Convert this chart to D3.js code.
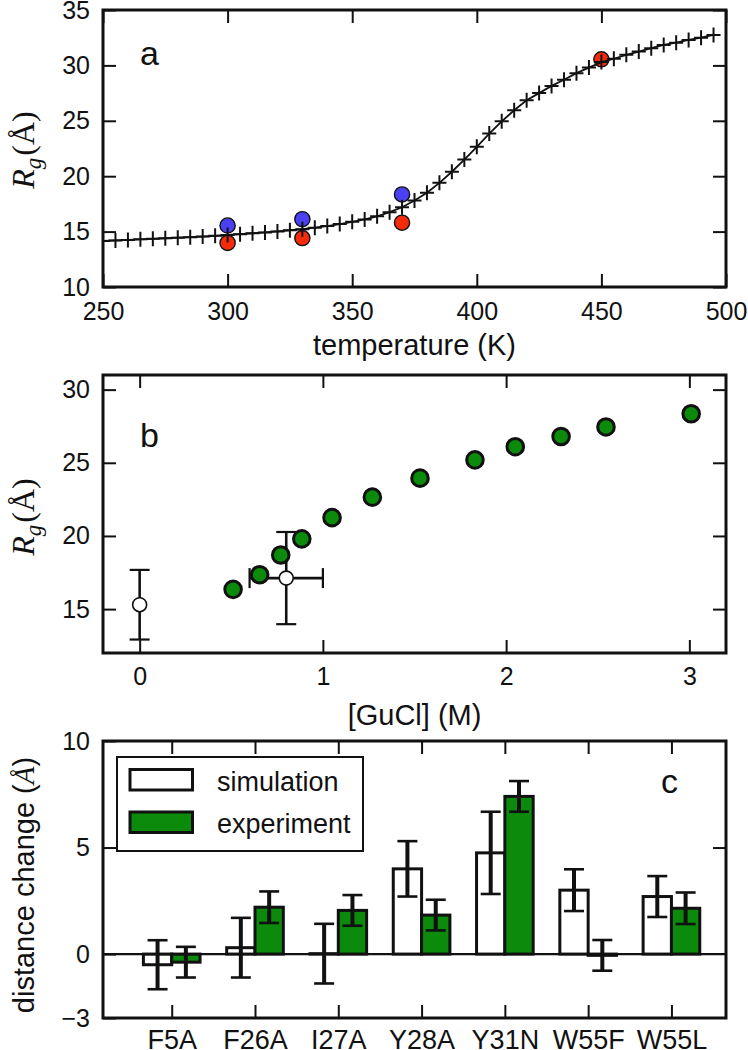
<!DOCTYPE html>
<html><head><meta charset="utf-8">
<script src="https://cdn.jsdelivr.net/npm/d3@7"></script>
<style>
body{margin:0;background:#fff}
svg text{fill:#111}
</style>
</head><body><script>
// ---------- Panel a data ----------
const tempK = [250,255,260,265,270,275,280,285,290,295,300,305,310,315,320,325,330,335,340,345,350,355,360,365,370,375,380,385,390,395,400,405,410,415,420,425,430,435,440,445,450,455,460,465,470,475,480,485,490,495];
const rgTemp = [14.15,14.2,14.25,14.3,14.35,14.4,14.45,14.5,14.55,14.62,14.7,14.77,14.85,14.93,15.02,15.12,15.22,15.35,15.5,15.68,15.88,16.1,16.38,16.75,17.2,17.8,18.5,19.4,20.4,21.5,22.65,23.85,24.95,25.95,26.85,27.5,28.15,28.7,29.3,29.8,30.3,30.6,30.95,31.25,31.55,31.85,32.05,32.3,32.5,32.75];
const blueT = [300,330,370];
const blueRg = [15.55,16.12,18.35];
const redT = [300,330,370,450];
const redRg = [13.98,14.42,15.8,30.55];
const xTicksA = [250,300,350,400,450,500];
const yTicksA = [10,15,20,25,30,35];

// ---------- Panel b data ----------
const gucl = [0.51,0.655,0.77,0.885,1.05,1.27,1.53,1.83,2.05,2.3,2.545,3.01];
const rgGucl = [16.35,17.35,18.7,19.8,21.25,22.65,23.95,25.2,26.1,26.8,27.45,28.35];
const expGucl = [0,0.8];
const expGuclErr = [0,0.2];
const expRg = [15.3,17.12];
const expRgErr = [2.38,3.15];
const xTicksB = [0,1,2,3];
const yTicksB = [15,20,25,30];

// ---------- Panel c data ----------
const mutants = ["F5A","F26A","I27A","Y28A","Y31N","W55F","W55L"];
const simVal = [-0.5,0.3,0.02,4.0,4.75,3.0,2.7];
const simErr = [1.15,1.4,1.4,1.3,1.93,0.98,0.96];
const expVal = [-0.38,2.2,2.05,1.83,7.4,-0.06,2.15];
const expErr = [0.72,0.74,0.72,0.72,0.72,0.72,0.74];
const yTicksC = [-3,0,5,10];

const BLUE = "#4b40f2", RED = "#f42c0c", GREEN = "#0b8a0b";
const SANS = "'Liberation Sans', Arial, Helvetica, sans-serif";
const SERIF = "'Liberation Serif', 'Times New Roman', serif";
const L = 103, R = 726, TICK = 13;

const svg = d3.select("body").append("svg").attr("width",748).attr("height",1050)
  .style("font-family", SANS);

function frameAxes(g, x, y, top, bottom, xt, yt, xfmt, xpad, yRightTicks, xfs){
  const bx = g.append("g").attr("transform",`translate(0,${bottom})`)
    .call(d3.axisBottom(x).tickValues(xt).tickSizeInner(-TICK).tickSizeOuter(0).tickPadding(xpad).tickFormat(xfmt));
  const tx = g.append("g").attr("transform",`translate(0,${top})`)
    .call(d3.axisTop(x).tickValues(xt).tickSizeInner(-TICK).tickSizeOuter(0).tickFormat(""));
  const ly = g.append("g").attr("transform",`translate(${L},0)`)
    .call(d3.axisLeft(y).tickValues(yt).tickSizeInner(-TICK).tickSizeOuter(0).tickPadding(13));
  const ry = g.append("g").attr("transform",`translate(${R},0)`)
    .call(d3.axisRight(y).tickValues(yRightTicks||yt).tickSizeInner(-TICK).tickSizeOuter(0).tickFormat(""));
  [bx,tx,ly,ry].forEach(a=>{
    a.attr("font-family", SANS);
    a.select(".domain").remove();
    a.selectAll(".tick line").attr("stroke","#111").attr("stroke-width",2);
    a.selectAll(".tick text").attr("font-size",25).attr("fill","#111");
  });
  bx.selectAll(".tick text").attr("font-size", xfs || 25);
  g.append("rect").attr("x",L).attr("y",top).attr("width",R-L).attr("height",bottom-top)
    .attr("fill","none").attr("stroke","#111").attr("stroke-width",3);
}

function rgLabel(g, cx, cy){
  const t = g.append("text").attr("transform",`translate(${cx},${cy}) rotate(-90)`)
    .attr("text-anchor","middle").attr("font-family",SERIF).attr("font-size",32);
  t.append("tspan").attr("font-style","italic").text("R");
  t.append("tspan").attr("font-style","italic").attr("font-size",23).attr("dy",7).text("g");
  t.append("tspan").attr("font-style","normal").attr("dy",-7).attr("dx",2).text("(Å)");
}

// ================= Panel a =================
{
  const top = 10, bottom = 287;
  const x = d3.scaleLinear().domain([250,500]).range([L,R]);
  const y = d3.scaleLinear().domain([10,35]).range([bottom,top]);
  const g = svg.append("g");
  g.append("clipPath").attr("id","clipA").append("rect").attr("x",L).attr("y",top).attr("width",R-L).attr("height",bottom-top);
  const pts = d3.zip(tempK, rgTemp);
  g.selectAll("circle.blue").data(d3.zip(blueT,blueRg)).join("circle")
    .attr("cx",d=>x(d[0])).attr("cy",d=>y(d[1])).attr("r",7.6)
    .attr("fill",BLUE).attr("stroke","#111").attr("stroke-width",1.4);
  g.selectAll("circle.red").data(d3.zip(redT,redRg)).join("circle")
    .attr("cx",d=>x(d[0])).attr("cy",d=>y(d[1])).attr("r",7.6)
    .attr("fill",RED).attr("stroke","#111").attr("stroke-width",1.4);
  const cg = g.append("g").attr("clip-path","url(#clipA)");
  cg.append("path").datum(pts).attr("fill","none").attr("stroke","#111").attr("stroke-width",1.8)
    .attr("d", d3.line().x(d=>x(d[0])).y(d=>y(d[1])));
  cg.selectAll("path.plus").data(pts).join("path")
    .attr("d",d=>`M${x(d[0])-7},${y(d[1])}H${x(d[0])+7}M${x(d[0])},${y(d[1])-7.5}V${y(d[1])+7.5}`)
    .attr("stroke","#111").attr("stroke-width",2).attr("fill","none");
  frameAxes(g, x, y, top, bottom, xTicksA, yTicksA, d3.format("d"), 15);
  g.append("text").attr("x",(L+R)/2).attr("y",355).attr("text-anchor","middle").attr("font-size",29).text("temperature (K)");
  rgLabel(g, 34, 150);
  g.append("text").attr("x",140).attr("y",65).attr("font-size",34).text("a");
}

// ================= Panel b =================
{
  const top = 375, bottom = 653;
  const x = d3.scaleLinear().domain([-0.2,3.2]).range([L,R]);
  const y = d3.scaleLinear().domain([12,31]).range([bottom,top]);
  const g = svg.append("g");
  const ex = d3.range(expGucl.length);
  ex.forEach(i=>{
    const cx = x(expGucl[i]), cy = y(expRg[i]);
    const y0 = y(expRg[i]-expRgErr[i]), y1 = y(expRg[i]+expRgErr[i]);
    g.append("line").attr("x1",cx).attr("x2",cx).attr("y1",y0).attr("y2",y1).attr("stroke","#111").attr("stroke-width",2.6);
    g.append("line").attr("x1",cx-10).attr("x2",cx+10).attr("y1",y0).attr("y2",y0).attr("stroke","#111").attr("stroke-width",2.2);
    g.append("line").attr("x1",cx-10).attr("x2",cx+10).attr("y1",y1).attr("y2",y1).attr("stroke","#111").attr("stroke-width",2.2);
    if (expGuclErr[i] > 0){
      const x0 = x(expGucl[i]-expGuclErr[i]), x1 = x(expGucl[i]+expGuclErr[i]);
      g.append("line").attr("x1",x0).attr("x2",x1).attr("y1",cy).attr("y2",cy).attr("stroke","#111").attr("stroke-width",2.6);
      g.append("line").attr("x1",x0).attr("x2",x0).attr("y1",cy-10).attr("y2",cy+10).attr("stroke","#111").attr("stroke-width",2.2);
      g.append("line").attr("x1",x1).attr("x2",x1).attr("y1",cy-10).attr("y2",cy+10).attr("stroke","#111").attr("stroke-width",2.2);
    }
  });
  g.selectAll("circle.open").data(ex).join("circle")
    .attr("cx",i=>x(expGucl[i])).attr("cy",i=>y(expRg[i])).attr("r",7)
    .attr("fill","#fff").attr("stroke","#111").attr("stroke-width",1.6);
  g.selectAll("circle.green").data(d3.zip(gucl,rgGucl)).join("circle")
    .attr("cx",d=>x(d[0])).attr("cy",d=>y(d[1])).attr("r",8.3)
    .attr("fill",GREEN).attr("stroke","#111").attr("stroke-width",3);
  frameAxes(g, x, y, top, bottom, xTicksB, yTicksB, d3.format("d"), 14);
  g.append("text").attr("x",(L+R)/2).attr("y",725).attr("text-anchor","middle").attr("font-size",29).text("[GuCl] (M)");
  rgLabel(g, 34, 517);
  g.append("text").attr("x",140).attr("y",447).attr("font-size",34).text("b");
}

// ================= Panel c =================
{
  const top = 741, bottom = 1018;
  const x = d3.scaleLinear().domain([-0.825,6.655]).range([L,R]);
  const y = d3.scaleLinear().domain([-3,10]).range([bottom,top]);
  const g = svg.append("g");
  const bw = 0.34;
  const idx = d3.range(mutants.length);
  g.selectAll("rect.sim").data(idx).join("rect")
    .attr("x",i=>x(i-bw)).attr("width",i=>x(i)-x(i-bw))
    .attr("y",i=>Math.min(y(simVal[i]),y(0))).attr("height",i=>Math.abs(y(simVal[i])-y(0)))
    .attr("fill","#fff").attr("stroke","#111").attr("stroke-width",3);
  g.selectAll("rect.exp").data(idx).join("rect")
    .attr("x",i=>x(i)).attr("width",i=>x(i+bw)-x(i))
    .attr("y",i=>Math.min(y(expVal[i]),y(0))).attr("height",i=>Math.abs(y(expVal[i])-y(0)))
    .attr("fill",GREEN).attr("stroke","#111").attr("stroke-width",3);
  g.append("line").attr("x1",L).attr("x2",R).attr("y1",y(0)).attr("y2",y(0)).attr("stroke","#111").attr("stroke-width",2.2);
  const eb = (cx, v, e) => {
    const y0 = y(v-e), y1 = y(v+e);
    g.append("line").attr("x1",cx).attr("x2",cx).attr("y1",y0).attr("y2",y1).attr("stroke","#111").attr("stroke-width",4);
    g.append("line").attr("x1",cx-10).attr("x2",cx+10).attr("y1",y0).attr("y2",y0).attr("stroke","#111").attr("stroke-width",2.6);
    g.append("line").attr("x1",cx-10).attr("x2",cx+10).attr("y1",y1).attr("y2",y1).attr("stroke","#111").attr("stroke-width",2.6);
  };
  idx.forEach(i=>{
    eb(x(i-bw/2), simVal[i], simErr[i]);
    eb(x(i+bw/2), expVal[i], expErr[i]);
  });
  frameAxes(g, x, y, top, bottom, idx, yTicksC, i=>mutants[i], 12, [5], 27);
  const t = g.append("text").attr("transform",`translate(34,885) rotate(-90)`).attr("text-anchor","middle").attr("font-size",29);
  t.append("tspan").text("distance change (");
  t.append("tspan").attr("font-family",SERIF).attr("font-style","italic").text("Å");
  t.append("tspan").text(")");
  const lg = g.append("g");
  lg.append("rect").attr("x",117).attr("y",757).attr("width",246).attr("height",94).attr("fill","#fff").attr("stroke","#111").attr("stroke-width",2);
  lg.append("rect").attr("x",130).attr("y",769.5).attr("width",62.5).attr("height",20.5).attr("fill","#fff").attr("stroke","#111").attr("stroke-width",3);
  lg.append("rect").attr("x",130).attr("y",812).attr("width",62.5).attr("height",20.5).attr("fill",GREEN).attr("stroke","#111").attr("stroke-width",3);
  lg.append("text").attr("x",217).attr("y",791).attr("font-size",27).text("simulation");
  lg.append("text").attr("x",217).attr("y",833).attr("font-size",27).text("experiment");
  g.append("text").attr("x",661).attr("y",793).attr("font-size",34).text("c");
}
</script></body></html>
